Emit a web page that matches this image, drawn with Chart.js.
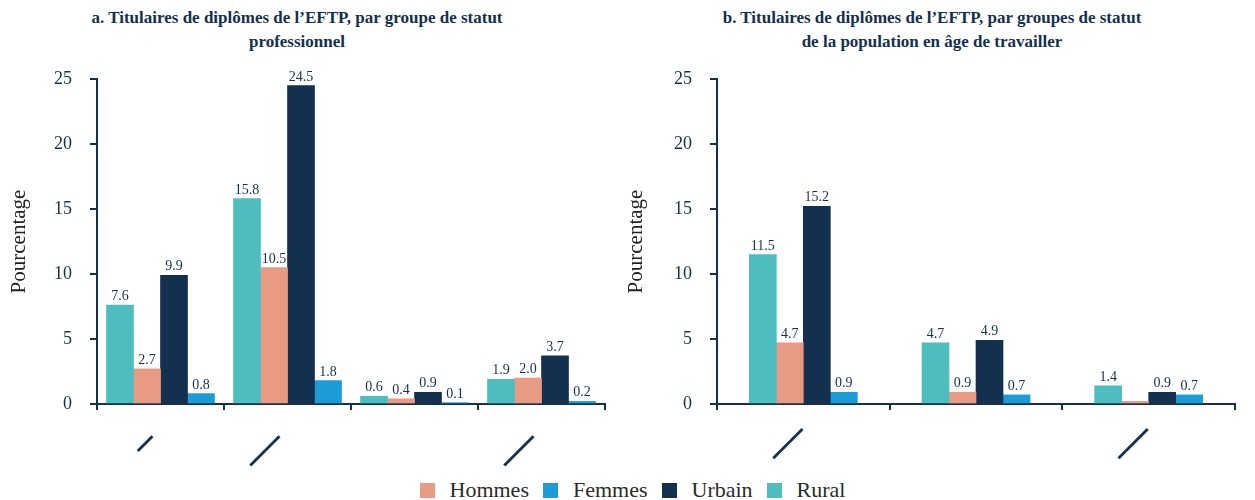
<!DOCTYPE html>
<html lang="fr">
<head>
<meta charset="utf-8">
<script src="https://cdn.jsdelivr.net/npm/chart.js@4.4.1/dist/chart.umd.min.js"></script>
<style>
  body { margin: 0; width: 1255px; height: 500px; background: #fff; position: relative; overflow: hidden; font-family: 'Liberation Serif', serif; }
  .box { position: absolute; top: 0; height: 470px; }
  #box-a { left: 0; width: 620px; }
  #box-b { left: 624px; width: 631px; }
  .titre { position: absolute; top: 6px; width: 560px; font-family: 'Liberation Serif', serif; font-weight: bold; font-size: 17px; line-height: 24px; color: #14304f; text-align: center; white-space: nowrap; }
  #titre-a { left: 17px; }
  #titre-b { left: 652px; }
  #legende { position: absolute; top: 477px; left: 5px; width: 1255px; display: flex; justify-content: center; align-items: center; font-family: 'Liberation Serif', serif; font-size: 22px; color: #2b2b2b; }
  #legende span.item { display: flex; align-items: center; margin: 0 7px; }
  #legende i { display: inline-block; width: 15px; height: 15px; margin-right: 15px; }
</style>
</head>
<body>
<div class="titre" id="titre-a">a. Titulaires de diplômes de l’EFTP, par groupe de statut<br>professionnel</div>
<div class="titre" id="titre-b">b. Titulaires de diplômes de l’EFTP, par groupes de statut<br>de la population en âge de travailler</div>
<div class="box" id="box-a"><canvas id="chart-a"></canvas></div>
<div class="box" id="box-b"><canvas id="chart-b"></canvas></div>
<div id="legende"></div>
<script>
// categories (original labels show only as slanted strokes)
const categoriesA = ['━━ ', '━━━━ ', '', '━━━━ '];
const categoriesB = ['━━━━', '', '━━━━'];

// values, percent
const ruralA = [7.6, 15.8, 0.6, 1.9];
const hommesA = [2.7, 10.5, 0.4, 2.0];
const urbainA = [9.9, 24.5, 0.9, 3.7];
const femmesA = [0.8, 1.8, 0.1, 0.2];

const ruralB = [11.5, 4.7, 1.4];
const hommesB = [4.7, 0.9, 0.2];
const urbainB = [15.2, 4.9, 0.9];
const femmesB = [0.9, 0.7, 0.7];

const yTicks = [0, 5, 10, 15, 20, 25];

const navy = '#14304f';
const colors = { Hommes: '#e89a83', Femmes: '#1b9bd7', Urbain: '#14304f', Rural: '#4dbdc0' };
const legendOrder = ['Hommes', 'Femmes', 'Urbain', 'Rural'];

// draw value above each bar
const etiquettes = {
    id: 'etiquettes',
    afterDatasetsDraw(chart, args, opts) {
        const ctx = chart.ctx;
        const hidden = opts.cachees || [];
        ctx.save();
        ctx.font = '14px "Liberation Serif"';
        ctx.fillStyle = navy;
        ctx.textAlign = 'center';
        ctx.textBaseline = 'alphabetic';
        chart.data.datasets.forEach((ds, i) => {
            chart.getDatasetMeta(i).data.forEach((bar, j) => {
                if (hidden.some(h => h[0] === ds.label && h[1] === j)) return;
                ctx.fillText(ds.data[j].toFixed(1), bar.x, bar.y - 5);
            });
        });
        ctx.restore();
    }
};

function makeChart(id, labels, series, yWidth, padLeft, padRight, cachees) {
    const datasets = series.map(([name, data]) => ({
        label: name,
        data: data,
        backgroundColor: colors[name],
        barThickness: 27
    }));
    return new Chart(document.getElementById(id), {
        type: 'bar',
        data: { labels, datasets },
        plugins: [etiquettes],
        options: {
            responsive: true,
            maintainAspectRatio: false,
            animation: false,
            layout: { padding: { top: 79, left: padLeft, right: padRight, bottom: 0 } },
            plugins: {
                legend: { display: false },
                tooltip: { enabled: false },
                etiquettes: { cachees }
            },
            scales: {
                x: {
                    grid: { offset: true, drawOnChartArea: false, drawTicks: true, tickLength: 6, color: navy, lineWidth: 2 },
                    border: { color: navy, width: 2 },
                    ticks: {
                        color: navy,
                        font: { family: 'DejaVu Sans Mono', size: 17 },
                        minRotation: 45, maxRotation: 45, autoSkip: false, padding: 13
                    },
                    afterFit: s => { s.height = 66; }
                },
                y: {
                    min: 0, max: 25,
                    afterBuildTicks: s => { s.ticks = yTicks.map(v => ({ value: v })); },
                    ticks: { color: navy, font: { family: 'Liberation Serif', size: 18 }, padding: 18 },
                    grid: { drawOnChartArea: false, drawTicks: true, tickLength: 7, color: navy, lineWidth: 2 },
                    border: { color: navy, width: 2 },
                    title: { display: true, text: 'Pourcentage', color: '#222', font: { family: 'Liberation Serif', size: 21 }, padding: 0 },
                    afterFit: s => { s.width = yWidth; }
                }
            }
        }
    });
}

makeChart('chart-a', categoriesA,
    [['Rural', ruralA], ['Hommes', hommesA], ['Urbain', urbainA], ['Femmes', femmesA]],
    90, 7, 15, []);
makeChart('chart-b', categoriesB,
    [['Rural', ruralB], ['Hommes', hommesB], ['Urbain', urbainB], ['Femmes', femmesB]],
    93, 0, 20, [['Hommes', 2]]);

// shared legend
const legende = document.getElementById('legende');
legendOrder.forEach(name => {
    const item = document.createElement('span');
    item.className = 'item';
    item.innerHTML = `<i style="background:${colors[name]}"></i>${name}`;
    legende.appendChild(item);
});
</script>
</body>
</html>
